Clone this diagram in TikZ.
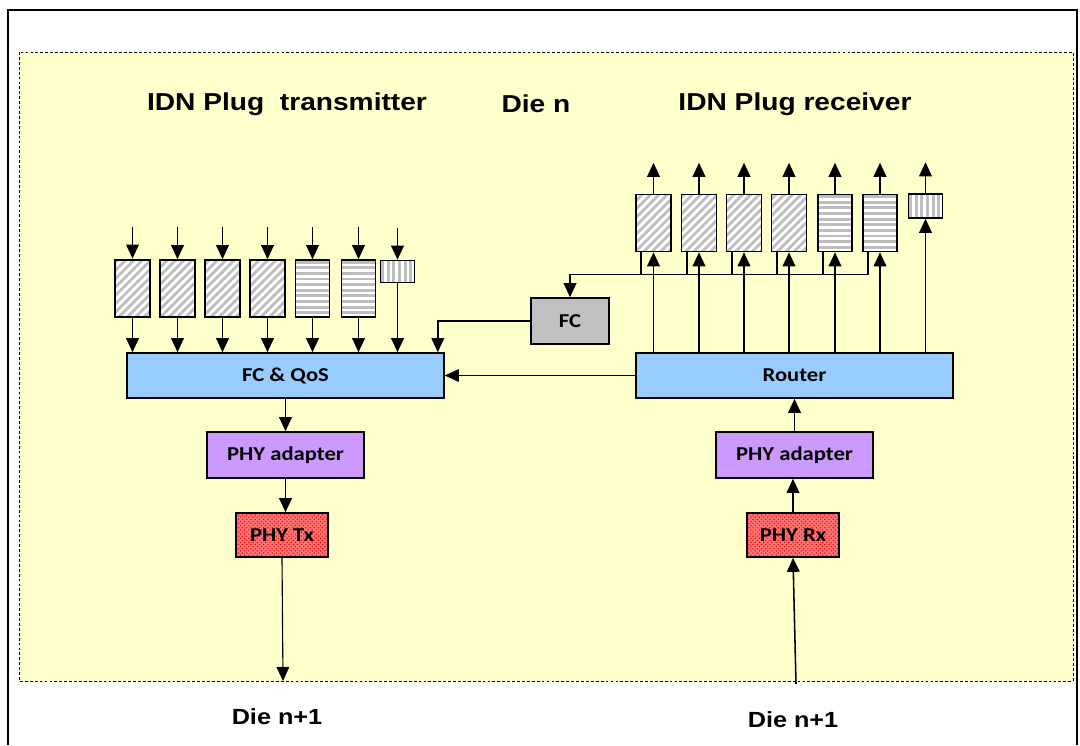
\documentclass[tikz,border=0pt]{standalone}
\usepackage{fontspec}
\setmainfont{Liberation Sans}[FakeStretch=1.15]
\newfontfamily\boxfont{Carlito}[FakeStretch=1.15]
\usetikzlibrary{arrows.meta,patterns,patterns.meta}

\definecolor{dieyellow}{HTML}{FFFFCC}
\definecolor{blockblue}{HTML}{99CCFF}
\definecolor{adaptviolet}{HTML}{CC99FF}
\definecolor{fcgray}{HTML}{C0C0C0}
\definecolor{stripegray}{HTML}{BEBEBE}

\begin{document}
\begin{tikzpicture}[
    x=0.025cm, y=-0.025cm,
    every node/.style={inner sep=0pt, line width=1.1pt},
    arr/.style={line width=1.1pt, -{Triangle[length=10pt,width=9pt]}},
    title/.style={font=\bfseries\fontsize{17.4}{20}\selectfont},
    dielabel/.style={font=\bfseries\fontsize{15.6}{18}\selectfont},
    block/.style={draw, font=\boxfont\bfseries\fontsize{14}{16}\selectfont},
    qdiag/.style={draw, minimum width=0.875cm, minimum height=1.425cm,
        preaction={fill=white}, pattern color=stripegray,
        pattern={Lines[angle=45,distance=4.2pt,line width=2pt]}},
    qhor/.style={draw, fill=white, minimum width=0.85cm, minimum height=1.425cm,
        path picture={\foreach \k in {0,...,10}
            \draw[stripegray, line width=2pt]
                ([yshift=-\k*4pt-1.5pt]path picture bounding box.north west) --
                ([yshift=-\k*4pt-1.5pt]path picture bounding box.north east);}},
    qver/.style={draw, fill=white, minimum width=0.85cm, minimum height=0.55cm,
        path picture={\foreach \k in {0,...,6}
            \draw[stripegray, line width=2pt]
                ([xshift=\k*4pt+1.5pt]path picture bounding box.north west) --
                ([xshift=\k*4pt+1.5pt]path picture bounding box.south west);}},
    phy/.style={block, minimum width=2.3cm, minimum height=1.1cm,
        preaction={fill=red!55!white}, pattern color=red!85!black,
        pattern=crosshatch dots}
]
\useasboundingbox (0,0) rectangle (1080,745);

% frame and die area
\draw[line width=1.1pt] (8,745) -- (8,10) -- (1077,10) -- (1077,745);
\fill[dieyellow] (19,52) rectangle (1073,681);
\draw[dash pattern=on 2pt off 1.5pt] (19,52) rectangle (1073,681);

\node[title] (txtitle) at (287,104) {IDN Plug~ transmitter};
\node[title] (dietitle) at (536,104) {Die n};
\node[title] (rxtitle) at (795,104) {IDN Plug receiver};

% transmitter side
\node[qdiag] (tq1) at (132.5,288.5) {};
\node[qdiag] (tq2) at (177.5,288.5) {};
\node[qdiag] (tq3) at (222.5,288.5) {};
\node[qdiag] (tq4) at (267.5,288.5) {};
\node[qhor]  (tq5) at (312.5,288.5) {};
\node[qhor]  (tq6) at (358.5,288.5) {};
\node[qver]  (tq7) at (397.5,271.5) {};

\node[block, fill=blockblue, minimum width=7.925cm, minimum height=1.125cm]
    (fcqos) at (285.5,375.5) {FC \& QoS};
\node[block, fill=adaptviolet, minimum width=3.925cm, minimum height=1.15cm]
    (txadapt) at (285.5,455) {PHY adapter};
\node[phy] (phytx) at (282,535) {PHY Tx};

\draw[arr] ([yshift=0.8cm]tq1.north) -- (tq1.north);
\draw[arr] ([yshift=0.8cm]tq2.north) -- (tq2.north);
\draw[arr] ([yshift=0.8cm]tq3.north) -- (tq3.north);
\draw[arr] ([yshift=0.8cm]tq4.north) -- (tq4.north);
\draw[arr] ([yshift=0.8cm]tq5.north) -- (tq5.north);
\draw[arr] ([yshift=0.8cm]tq6.north) -- (tq6.north);
\draw[arr] ([yshift=0.8cm]tq7.north) -- (tq7.north);

\draw[arr] (tq1.south) -- (tq1.south |- fcqos.north);
\draw[arr] (tq2.south) -- (tq2.south |- fcqos.north);
\draw[arr] (tq3.south) -- (tq3.south |- fcqos.north);
\draw[arr] (tq4.south) -- (tq4.south |- fcqos.north);
\draw[arr] (tq5.south) -- (tq5.south |- fcqos.north);
\draw[arr] (tq6.south) -- (tq6.south |- fcqos.north);
\draw[arr] (tq7.south) -- (tq7.south |- fcqos.north);

\draw[arr] (fcqos.south) -- (fcqos.south |- txadapt.north);
\draw[arr] (txadapt.south) -- (txadapt.south |- phytx.north);
\coordinate (txout) at (283,681);
\draw[arr, line width=0.8pt] (phytx.south) -- (txout);
\node[dielabel] (txdie) at (277,717) {Die n+1};

% receiver side
\node[qdiag] (rq1) at (653.5,223) {};
\node[qdiag] (rq2) at (699,223) {};
\node[qdiag] (rq3) at (744,223) {};
\node[qdiag] (rq4) at (789,223) {};
\node[qhor]  (rq5) at (835,223) {};
\node[qhor]  (rq6) at (880,223) {};
\node[qver, minimum height=0.6cm] (rq7) at (925.5,206) {};

\node[block, fill=blockblue, minimum width=7.925cm, minimum height=1.125cm]
    (router) at (794.5,375.5) {Router};
\node[block, fill=adaptviolet, minimum width=3.925cm, minimum height=1.15cm]
    (rxadapt) at (794.5,455) {PHY adapter};
\node[phy] (phyrx) at (793,535) {PHY Rx};
\node[block, fill=fcgray, minimum width=1.95cm, minimum height=1.15cm]
    (fc) at (570,321) {FC};

\draw[arr] (rq1.north) -- ([yshift=0.775cm]rq1.north);
\draw[arr] (rq2.north) -- ([yshift=0.775cm]rq2.north);
\draw[arr] (rq3.north) -- ([yshift=0.775cm]rq3.north);
\draw[arr] (rq4.north) -- ([yshift=0.775cm]rq4.north);
\draw[arr] (rq5.north) -- ([yshift=0.775cm]rq5.north);
\draw[arr] (rq6.north) -- ([yshift=0.775cm]rq6.north);
\draw[arr] (rq7.north) -- ([yshift=0.775cm]rq7.north);

% flow control taps
\draw[arr] (rq6.south west) ++(6,0) -- ++(0,22) -| (fc.north);
\draw[line width=1.1pt] (rq1.south west) ++(6,0) -- ++(0,22);
\draw[line width=1.1pt] (rq2.south west) ++(6,0) -- ++(0,22);
\draw[line width=1.1pt] (rq3.south west) ++(6,0) -- ++(0,22);
\draw[line width=1.1pt] (rq4.south west) ++(6,0) -- ++(0,22);
\draw[line width=1.1pt] (rq5.south west) ++(6,0) -- ++(0,22);

\draw[arr] (rq1.south |- router.north) -- (rq1.south);
\draw[arr] (rq2.south |- router.north) -- (rq2.south);
\draw[arr] (rq3.south |- router.north) -- (rq3.south);
\draw[arr] (rq4.south |- router.north) -- (rq4.south);
\draw[arr] (rq5.south |- router.north) -- (rq5.south);
\draw[arr] (rq6.south |- router.north) -- (rq6.south);
\draw[arr] (rq7.south |- router.north) -- (rq7.south);

\draw[arr] (fc.west) -| ([xshift=-0.175cm]fcqos.north east);
\draw[arr, line width=0.7pt] (router.west) -- (fcqos.east);

\draw[arr] (rxadapt.north) -- (rxadapt.north |- router.south);
\draw[arr] (phyrx.north) -- (phyrx.north |- rxadapt.south);
\coordinate (rxin) at (796,684);
\draw[arr] (rxin) -- (phyrx.south);
\node[dielabel] (rxdie) at (793,720) {Die n+1};
\end{tikzpicture}
\end{document}
